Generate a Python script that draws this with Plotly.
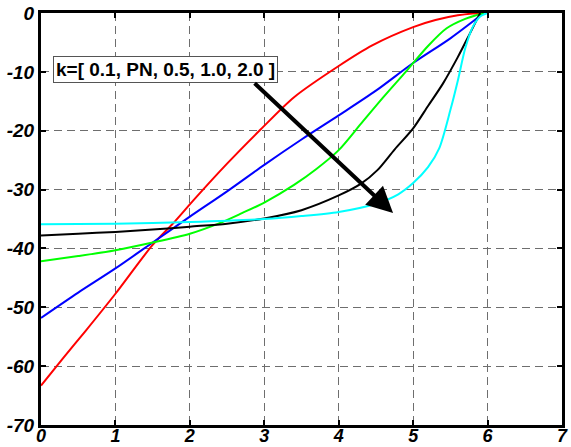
import plotly.graph_objects as go

# ---- data ----
red_x = [0, 0.3, 0.6, 1.0, 1.5, 1.8, 2.05, 2.5, 2.95, 3.4, 4.0, 4.45, 5.0, 5.3, 5.6, 5.8, 5.95]
red_y = [-63.3, -58.6, -54.0, -47.7, -39.4, -35.4, -31.8, -25.6, -19.8, -14.3, -9.0, -5.5, -2.4, -1.2, -0.4, -0.1, 0]

blue_x = [0, 0.5, 1.0, 1.5, 2.0, 2.5, 3.0, 3.5, 4.0, 4.5, 5.0, 5.5, 5.95]
blue_y = [-51.8, -47.5, -43.4, -39.0, -34.6, -30.3, -25.8, -21.5, -17.4, -13.2, -8.5, -4.3, 0]

green_x = [0, 0.5, 1.0, 1.5, 2.0, 2.4, 2.7, 3.0, 3.4, 3.7, 4.0, 4.3, 4.6, 4.9, 5.2, 5.45, 5.7, 5.95]
green_y = [-42.2, -41.3, -40.3, -39.0, -37.5, -35.7, -34.0, -32.2, -29.2, -26.5, -23.3, -18.8, -14.3, -10.0, -5.6, -2.6, -1.0, 0]

black_x = [0, 0.5, 1.0, 1.5, 2.0, 2.5, 3.0, 3.5, 4.0, 4.3, 4.52, 4.75, 5.0, 5.2, 5.4, 5.6, 5.75, 5.9]
black_y = [-37.8, -37.5, -37.2, -36.8, -36.3, -35.8, -34.9, -33.5, -31.0, -29.0, -26.7, -23.2, -19.6, -15.8, -12.0, -7.5, -3.8, 0]

cyan_x = [0, 1.0, 2.0, 3.0, 3.5, 4.0, 4.5, 4.8, 5.0, 5.2, 5.35, 5.5, 5.6, 5.7, 5.8, 5.9, 6.0]
cyan_y = [-35.9, -35.8, -35.5, -35.0, -34.5, -33.8, -32.4, -30.8, -28.9, -26.2, -23.0, -16.5, -11.5, -6.0, -2.4, -0.6, 0]

x_ticks = [0, 1, 2, 3, 4, 5, 6, 7]
y_ticks = [0, -10, -20, -30, -40, -50, -60, -70]

label_text = "k=[ 0.1, PN, 0.5, 1.0, 2.0 ]"
label_pos = (1.67, -9.6)
arrow_tail = (2.85, -11.7)
arrow_tip = (4.73, -34.0)

series = [
    (red_x, red_y, "#ff0000"),
    (blue_x, blue_y, "#0000ff"),
    (green_x, green_y, "#00ff00"),
    (black_x, black_y, "#000000"),
    (cyan_x, cyan_y, "#00ffff"),
]

fig = go.Figure()
for xs, ys, col in series:
    fig.add_trace(go.Scatter(x=xs, y=ys, mode="lines",
                             line=dict(color=col, width=2, shape="spline", smoothing=0.8),
                             showlegend=False, hoverinfo="skip"))

tickfont = dict(family="Liberation Sans, Arial, sans-serif", size=19,
                color="black", weight="bold", style="italic")
axis_common = dict(
    showline=True, linecolor="black", linewidth=3, mirror="ticks",
    ticks="inside", ticklen=5, tickwidth=2, tickcolor="black",
    showgrid=True, gridcolor="#6e6e6e", gridwidth=1, griddash="8px,5px",
    zeroline=False, automargin=False,
)

fig.update_xaxes(range=[0, 7], tickvals=x_ticks, ticktext=[str(v) for v in x_ticks],
                 ticklabelstandoff=-8, tickfont=dict(tickfont, size=18), **axis_common)
fig.update_yaxes(range=[-70, 0], tickvals=y_ticks, ticktext=[str(v) for v in y_ticks],
                 tickfont=tickfont, **axis_common)

fig.add_annotation(x=label_pos[0], y=label_pos[1], xref="x", yref="y",
                   text=label_text, showarrow=False,
                   font=dict(family="Liberation Sans, Arial, sans-serif", size=19,
                             color="black", weight="bold"),
                   bgcolor="white", bordercolor="#555555", borderwidth=1, borderpad=2)

fig.add_annotation(x=arrow_tip[0], y=arrow_tip[1], xref="x", yref="y",
                   ax=arrow_tail[0], ay=arrow_tail[1], axref="x", ayref="y",
                   text="", showarrow=True, arrowhead=2, arrowsize=1.3,
                   arrowwidth=4, arrowcolor="black", standoff=0)

fig.update_layout(width=571, height=447,
                  margin=dict(l=41, r=9, t=13, b=22),
                  paper_bgcolor="white", plot_bgcolor="white")

fig.write_html("out.html", config={"displayModeBar": False, "staticPlot": True},
               post_script="document.body.style.margin='0';document.body.style.overflow='hidden';")
